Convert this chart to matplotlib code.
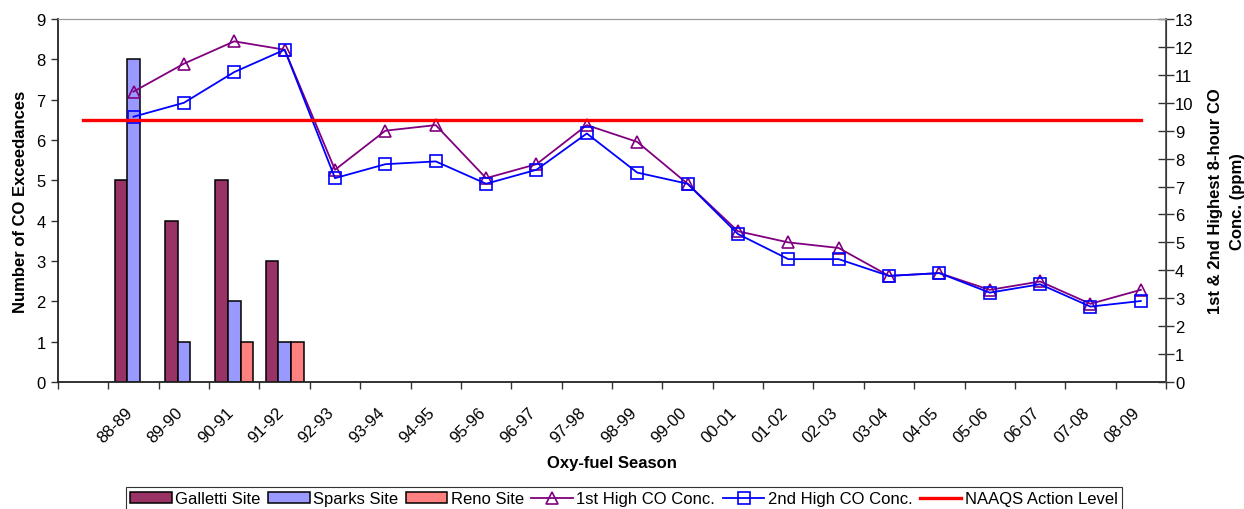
"""
CO exceedances and 8-hour CO concentrations by oxy-fuel season
"""
import numpy as np
import matplotlib
matplotlib.use('Agg')
import matplotlib.pyplot as plt
import matplotlib as mpl

mpl.rcParams['font.family'] = ['Liberation Sans', 'DejaVu Sans']
mpl.rcParams['xtick.labelsize'] = 12
mpl.rcParams['ytick.labelsize'] = 12
mpl.rcParams['axes.labelsize'] = 12

#==============================================================================
# Data (first slot on the axis is an empty category)
seasons = ['88-89', '89-90', '90-91', '91-92', '92-93', '93-94', '94-95',
           '95-96', '96-97', '97-98', '98-99', '99-00', '00-01', '01-02',
           '02-03', '03-04', '04-05', '05-06', '06-07', '07-08', '08-09']

galletti = [5, 4, 5, 3] + [0] * 17
sparks = [8, 1, 2, 1] + [0] * 17
reno = [0, 0, 1, 1] + [0] * 17

high1 = [10.4, 11.4, 12.2, 11.9, 7.6, 9.0, 9.2, 7.3, 7.8, 9.2, 8.6,
         7.1, 5.4, 5.0, 4.8, 3.8, 3.9, 3.3, 3.6, 2.8, 3.3]
high2 = [9.5, 10.0, 11.1, 11.9, 7.3, 7.8, 7.9, 7.1, 7.6, 8.9, 7.5,
         7.1, 5.3, 4.4, 4.4, 3.8, 3.9, 3.2, 3.5, 2.7, 2.9]
naaqs = 9.4

labels = [''] + seasons
x = np.arange(1, len(seasons) + 1)

#==============================================================================
fig = plt.figure(figsize=(12.44, 5.10), dpi=100)
ax = fig.add_axes([58/1244, 127/510, 1108/1244, 363/510])
ax2 = ax.twinx()

# 1) Bars (left axis)
w = 0.25
for vals, off, col, name in [(galletti, -w, '#993366', 'Galletti Site'),
                             (sparks, 0, '#9999FF', 'Sparks Site'),
                             (reno, w, '#FF8080', 'Reno Site')]:
    vals = np.array(vals)
    m = vals > 0
    ax.bar(x[m] + off, vals[m], width=w, color=col, edgecolor='black',
           linewidth=1.1, label=name)

# 2) Lines (right axis)
ax2.plot(x, high1, color='#800080', lw=1.3, marker='^', ms=8.5,
         mfc='none', mec='#800080', mew=1.2, label='1st High CO Conc.')
ax2.plot(x, high2, color='#0000FF', lw=1.3, marker='s', ms=8,
         mfc='none', mec='#0000FF', mew=1.2, label='2nd High CO Conc.')
xn = np.arange(0, len(labels))
ax2.plot(xn, [naaqs] * len(xn), color='#FF0000', lw=2.4,
         label='NAAQS Action Level')

# 3) Axes formatting
ax.set_xlim(-0.5, len(labels) - 0.5)
ax.set_ylim(0, 9)
ax.set_yticks(np.arange(0, 10))
ax2.set_ylim(0, 13)
ax2.set_yticks(np.arange(0, 14))

ax.set_xticks(np.arange(len(labels)))
ax.set_xticklabels(labels, rotation=45, ha='right', va='baseline',
                   rotation_mode='anchor')
ax.set_xticks(np.arange(len(labels) + 1) - 0.5, minor=True)
ax.tick_params(axis='x', which='major', length=0, pad=22)
ax.tick_params(axis='x', which='minor', length=5, width=1, color='#333333',
               direction='out')
ax.tick_params(axis='y', length=5, width=1, color='#333333', pad=4)
ax2.tick_params(axis='y', direction='inout', length=11, width=1,
                color='#333333', pad=1)

for s in ['left', 'bottom']:
    ax.spines[s].set_color('#222222')
    ax.spines[s].set_linewidth(1.3)
ax.spines['top'].set_color('#999999')
ax2.spines['top'].set_color('#999999')
ax2.spines['right'].set_color('#444444')
ax2.spines['right'].set_linewidth(1.2)
ax2.spines['left'].set_visible(False)
ax2.spines['bottom'].set_visible(False)

ax.set_ylabel('Number of CO Exceedances', fontweight='bold', labelpad=6)
ax.set_xlabel('Oxy-fuel Season', fontweight='bold', labelpad=7)
ax2.set_ylabel('1st & 2nd Highest 8-hour CO\nConc. (ppm)', fontweight='bold',
               labelpad=10, linespacing=1.65)

# 4) Legend
h1, l1 = ax.get_legend_handles_labels()
h2, l2 = ax2.get_legend_handles_labels()
leg = fig.legend(h1 + h2, l1 + l2, ncol=6, loc='upper center',
                 bbox_to_anchor=(624/1244, 1 - 488/510), fontsize=12,
                 frameon=True, fancybox=False, framealpha=1,
                 edgecolor='#333333', borderpad=0.25, handlelength=2.5,
                 handleheight=0.6, handletextpad=0.2, columnspacing=0.45,
                 borderaxespad=0)
leg.get_frame().set_linewidth(0.8)

plt.savefig('out.png', dpi=100)
